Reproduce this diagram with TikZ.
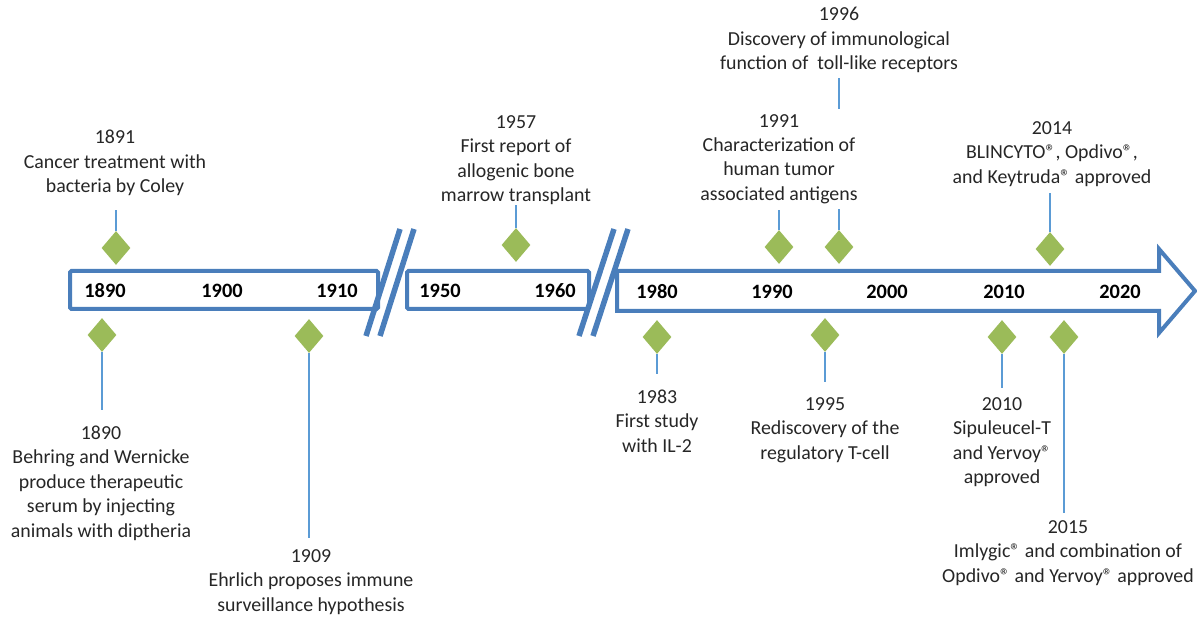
\documentclass[tikz,border=0pt]{standalone}
\usepackage{fontspec}
\setmainfont{Carlito}
\usetikzlibrary{shapes.geometric}
\definecolor{axisblue}{HTML}{4A7EBB}
\definecolor{connblue}{HTML}{5B9BD5}
\definecolor{diagreen}{HTML}{9BBB59}
\tikzset{
  px/.style={x=0.02cm,y=-0.02cm},
  axisline/.style={draw=axisblue,line width=0.08cm,line join=miter},
  slash/.style={draw=axisblue,line width=0.11cm},
  yearlbl/.style={font=\fontsize{11.6}{13}\selectfont\bfseries,inner sep=0pt},
  event/.style={align=center,font=\fontsize{11.3}{13.9}\selectfont,inner sep=0pt,text=black!85},
  gem/.style={diamond,fill=diagreen,draw=none,minimum width=0.58cm,minimum height=0.68cm,inner sep=0pt},
  conn/.style={draw=connblue,line width=0.032cm},
}
\begin{document}
\begin{tikzpicture}[px]
\useasboundingbox (0,0) rectangle (1197,617);
% timeline boxes
\draw[axisline,rounded corners=0.03cm] (70,271) rectangle (378,309);
\draw[axisline,rounded corners=0.03cm] (407,271) rectangle (589,309);
\draw[axisline] (617,271) -- (1159,271) -- (1159,249) -- (1195,291) -- (1159,333) -- (1159,311) -- (617,311) -- cycle;
% breaks
\draw[slash] (366,336) -- (400,229);
\draw[slash] (380,336) -- (414,229);
\draw[slash] (579,336) -- (614,229);
\draw[slash] (593,336) -- (628,229);
% year labels
\node[yearlbl] (y1890) at (105,291) {1890};
\node[yearlbl] (y1900) at (222,291) {1900};
\node[yearlbl] (y1910) at (337,291) {1910};
\node[yearlbl] (y1950) at (440,291) {1950};
\node[yearlbl] (y1960) at (555,291) {1960};
\node[yearlbl] (y1980) at (657,292) {1980};
\node[yearlbl] (y1990) at (772,292) {1990};
\node[yearlbl] (y2000) at (887,292) {2000};
\node[yearlbl] (y2010) at (1004,292) {2010};
\node[yearlbl] (y2020) at (1120,292) {2020};
% diamonds above
\node[gem] (d1891) at (116,248) {};
\node[gem] (d1957) at (516,245) {};
\node[gem] (d1991) at (779,247) {};
\node[gem] (d1996) at (839,247) {};
\node[gem] (d2014) at (1050,249) {};
% diamonds below
\node[gem] (d1890) at (102,335) {};
\node[gem] (d1909) at (309,336) {};
\node[gem] (d1983) at (657,337) {};
\node[gem] (d1995) at (825,335) {};
\node[gem] (d2010) at (1002,337) {};
\node[gem] (d2015) at (1064,337) {};
% connector ends
\coordinate (c1891) at (116,210);
\coordinate (c1957) at (516,205);
\coordinate (c1991) at (779,210);
\coordinate (c1996) at (839,78);
\coordinate (c2014) at (1050,193);
\coordinate (c1890) at (102,410);
\coordinate (c1909) at (309,538);
\coordinate (c1983) at (657,374);
\coordinate (c1995) at (825,382);
\coordinate (c2010) at (1002,388);
\coordinate (c2015) at (1064,513);
\foreach \n in {1891,1957,1991,1996,2014,1890,1909,1983,1995,2010,2015}
  \draw[conn] (d\n) -- (c\n);
% event texts
\node[event] (t1891) at (115,163) {1891\\Cancer treatment with\\bacteria by Coley};
\node[event] (t1957) at (516,160) {1957\\First report of\\allogenic bone\\marrow transplant};
\node[event,fill=white,inner ysep=0.1cm] (t1991) at (779,159) {1991\\Characterization of\\human tumor\\associated antigens};
\node[event] (t1996) at (839,40) {1996\\Discovery of immunological\\function of\ \ toll-like receptors};
\node[event] (t2014) at (1052,154) {2014\\BLINCYTO\textregistered, Opdivo\textregistered,\\and Keytruda\textregistered{} approved};
\node[event] (t1890) at (101,483) {1890\\Behring and Wernicke\\produce therapeutic\\serum by injecting\\animals with diptheria};
\node[event] (t1909) at (311,582) {1909\\Ehrlich proposes immune\\surveillance hypothesis};
\node[event] (t1983) at (657,421) {1983\\First study\\with IL-2};
\node[event] (t1995) at (825,430) {1995\\Rediscovery of the\\regulatory T-cell};
\node[event] (t2010) at (1002,442) {2010\\Sipuleucel-T\\and Yervoy\textregistered\\approved};
\node[event] (t2015) at (1068,553) {2015\\Imlygic\textregistered{} and combination of\\Opdivo\textregistered{} and Yervoy\textregistered{} approved};
\end{tikzpicture}
\end{document}
